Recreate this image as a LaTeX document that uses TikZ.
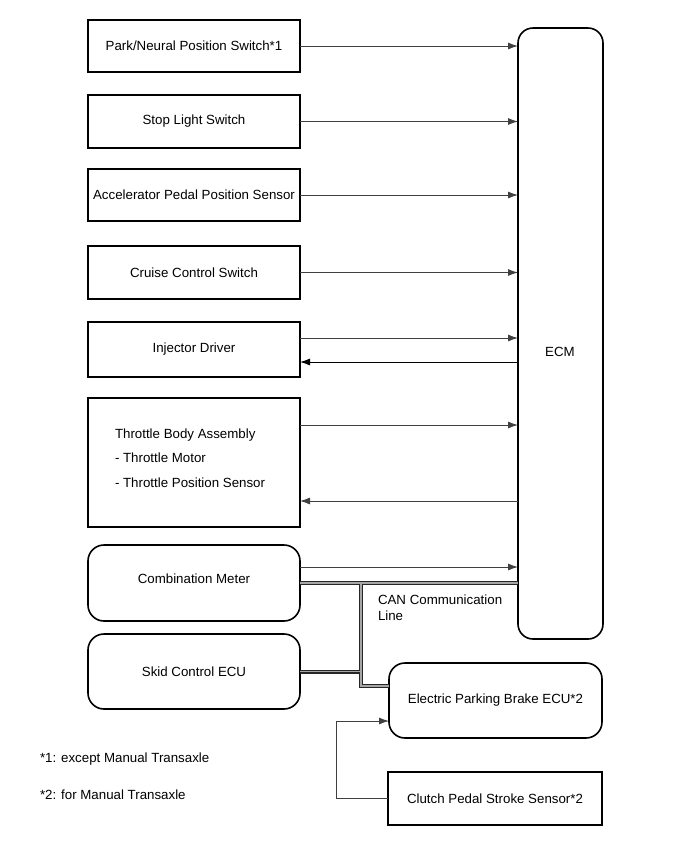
\documentclass[tikz,border=0pt]{standalone}
\usepackage{fontspec}
\setmainfont{Liberation Sans}
\usetikzlibrary{arrows.meta}
\begin{document}
\begin{tikzpicture}[x=1pt,y=-1pt,
  every node/.style={font=\fontsize{13.3}{16}\selectfont, inner sep=0pt, outer sep=0pt},
  sqbox/.style={draw=black, line width=1.6pt, minimum width=212pt, anchor=north west},
  rbox/.style={sqbox, rounded corners=16pt},
  arr/.style={draw=black!75, line width=0.9pt, -{Latex[length=10pt,width=7pt]}},
  canout/.style={draw=black!85, line width=4pt},
  canin/.style={draw=black!35, line width=1.8pt}
]
\useasboundingbox (0,0) rectangle (691,855);

\node[sqbox, minimum height=52pt] (park) at (88,20) {Park/Neural Position Switch*1};
\node[sqbox, minimum height=53pt] (stop) at (88,95) {Stop Light Switch};
\node[sqbox, minimum height=52pt] (acc) at (88,169) {Accelerator Pedal Position Sensor};
\node[sqbox, minimum height=53pt] (cruise) at (88,246) {Cruise Control Switch};
\node[sqbox, minimum height=55pt] (inj) at (88,322) {Injector Driver};
\node[sqbox, minimum height=129pt] (tb) at (88,398) {};
\node[anchor=west, align=left, font=\fontsize{13.3}{24.5}\selectfont] (tbtext) at (115,458)
  {Throttle Body Assembly\\- Throttle Motor\\- Throttle Position Sensor};
\node[rbox, minimum height=76pt] (cm) at (88,545) {};
\node (cmtext) at (194,579) {Combination Meter};
\node[rbox, minimum height=75pt] (skid) at (88,634) {Skid Control ECU};
\node[rbox, minimum width=85pt, minimum height=611pt, rounded corners=15pt] (ecm) at (518,28) {};
\node (ecmtext) at (560,352) {ECM};
\node[rbox, minimum width=213pt, minimum height=75pt] (epb) at (389,663) {Electric Parking Brake ECU*2};
\node[sqbox, minimum width=214pt, minimum height=53pt] (clutch) at (388,772) {Clutch Pedal Stroke Sensor*2};

\node[anchor=west] (canlbl) at (378,600) {CAN Communication};
\node[anchor=west] (canlbl2) at (378,616) {Line};
\node[anchor=west] (fn1) at (40,759) {*1: except Manual Transaxle};
\node[anchor=west] (fn2) at (40,795) {*2: for Manual Transaxle};

% signal arrows
\draw[arr] (park.east) -- (park.east -| ecm.west);
\draw[arr] (stop.east) -- (stop.east -| ecm.west);
\draw[arr] (acc.east) -- (acc.east -| ecm.west);
\draw[arr] (cruise.east) -- (cruise.east -| ecm.west);
\draw[arr] ([yshift=11.5pt]inj.east) -- ([yshift=11.5pt]inj.east -| ecm.west);
\draw[arr, draw=black] ([yshift=-12.5pt]inj.east -| ecm.west) -- ([yshift=-12.5pt]inj.east);
\draw[arr] ([yshift=37.5pt]tb.east) -- ([yshift=37.5pt]tb.east -| ecm.west);
\draw[arr] ([yshift=-38.5pt]tb.east -| ecm.west) -- ([yshift=-38.5pt]tb.east);
\draw[arr] ([yshift=16pt]cm.east) -- ([yshift=16pt]cm.east -| ecm.west);

% clutch -> EPB
\coordinate (c1) at (336,721);
\draw[arr] (clutch.west) -| (c1) -- (c1 -| epb.west);

% CAN bus
\coordinate (j1) at (cm.east -| 361,0);
\coordinate (j2) at (skid.east -| 361,0);
\coordinate (j3) at (361,686);
\path[canout] (cm.east) -- (cm.east -| ecm.west);
\path[canout] (j1) -- (j3) -- (j3 -| epb.west);
\path[canout] (skid.east) -- (j2);
\path[canin] (cm.east) -- (cm.east -| ecm.west);
\path[canin] (j1) -- (j3) -- (j3 -| epb.west);
\path[canin] (skid.east) -- (j2);
\end{tikzpicture}
\end{document}
